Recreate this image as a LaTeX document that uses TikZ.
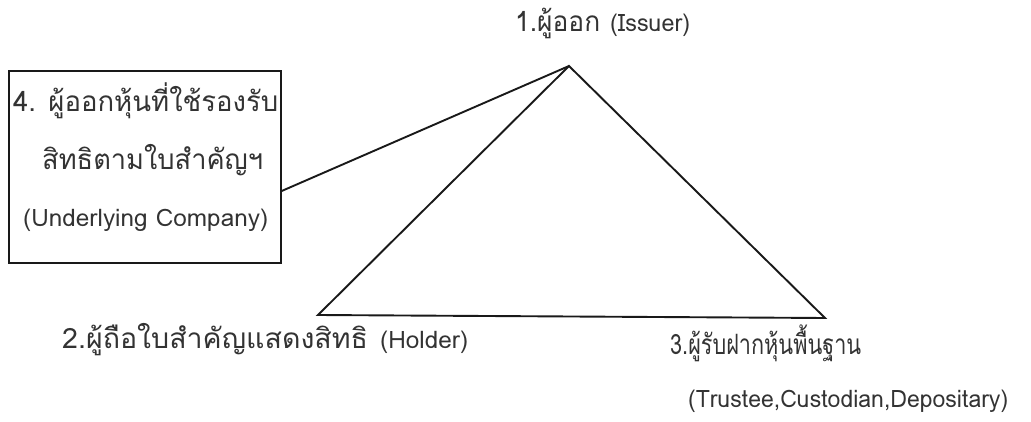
\documentclass[tikz,border=0pt]{standalone}
\usepackage{fontspec}
\usepackage{graphicx}
\newfontfamily\thaifont[Script=Thai]{Loma}
\newcommand\fitw[2]{\resizebox{#1pt}{\height}{#2}}
\newcommand\thbig{\thaifont\fontsize{28}{32}\selectfont}
\newcommand\latn{\thaifont\fontsize{24}{28}\selectfont}
\begin{document}
\begin{tikzpicture}[x=1pt,y=-1pt,
  lbl/.style={font=\latn, inner sep=0pt, text=black!80, anchor=base west},
  edge/.style={line width=1.9pt, black!90}]
\useasboundingbox (0,0) rectangle (1031,422);
\coordinate (apex) at (569,66);
\coordinate (holder) at (318,315);
\coordinate (trustee) at (825,318);
\node[draw, line width=1.7pt, black!90, minimum width=272pt, minimum height=192pt, inner sep=0pt, anchor=north west] (box) at (8,70) {};
\node[lbl] (b1) at (13,112) {\fitw{265}{\thbig 4. ผู้ออกหุ้นที่ใช้รองรับ}};
\node[lbl] (b2) at (42,170) {\fitw{221}{\thbig สิทธิตามใบสำคัญฯ}};
\node[lbl] (b3) at (23,227) {\fitw{245}{(Underlying Company)}};
\node[lbl] (t1) at (515,32) {\fitw{85}{\thbig 1.ผู้ออก}\hspace{10pt}\fitw{80}{(Issuer)}};
\node[lbl] (t2) at (62,348) {\fitw{306}{\thbig 2.ผู้ถือใบสำคัญแสดงสิทธิ}\hspace{12pt}\fitw{88}{(Holder)}};
\node[lbl] (t3) at (670,354) {\fitw{191}{\thbig 3.ผู้รับฝากหุ้นพื้นฐาน}};
\node[lbl] (t4) at (688,407) {\fitw{320}{(Trustee,Custodian,Depositary)}};
\draw[edge, line join=miter] (apex) -- (holder) -- (trustee) -- cycle;
\draw[edge] (apex) -- (box.east |- 0,191);
\end{tikzpicture}
\end{document}
